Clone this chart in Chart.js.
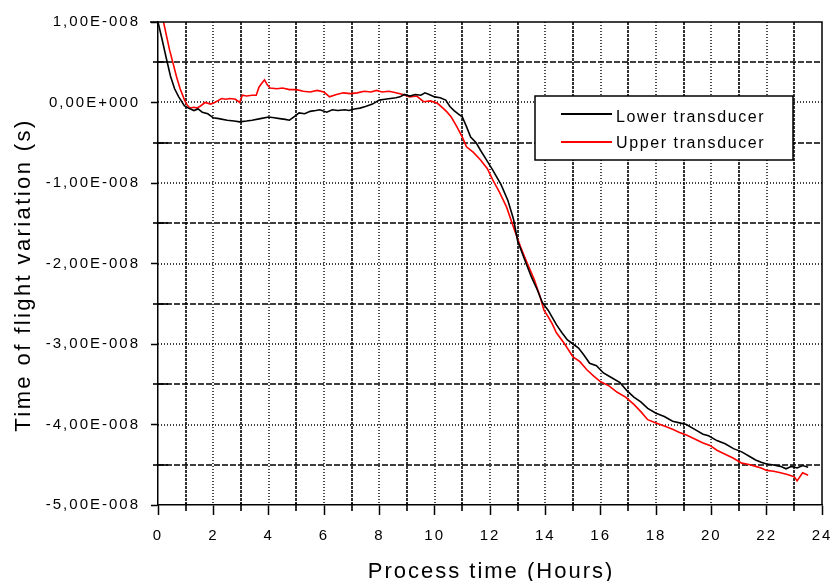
<!DOCTYPE html>
<html>
<head>
<meta charset="utf-8">
<script src="https://cdn.jsdelivr.net/npm/chart.js@4.4.0/dist/chart.umd.min.js"></script>
<style>
  html, body { margin: 0; padding: 0; background: #fff; }
  #wrap { width: 831px; height: 581px; }
</style>
</head>
<body>
<div id="wrap"><canvas id="tof" width="831" height="581"></canvas></div>
<script>
// process time (hours) / time of flight variation, in units of 1e-8 s
const lowerHours = [
  0, 0.15, 0.3, 0.45, 0.6, 0.75, 0.95, 1.1, 1.3, 1.45,
  1.6, 1.8, 2.0, 2.2, 2.5, 2.75, 2.95, 3.2, 3.4, 3.7,
  4.0, 4.2, 4.4, 4.6, 4.75, 4.95, 5.1, 5.3, 5.5, 5.7,
  5.85, 6.1, 6.3, 6.5, 6.75, 6.9, 7.1, 7.3, 7.5, 7.75,
  8.0, 8.2, 8.4, 8.6, 8.75, 8.9, 9.1, 9.3, 9.5, 9.65,
  9.8, 10.0, 10.2, 10.4, 10.55, 10.7, 10.85, 11.0, 11.15, 11.3,
  11.5, 11.65, 11.85, 12.1, 12.4, 12.65, 12.85, 13.0, 13.25, 13.5,
  13.7, 13.9, 14.1, 14.4, 14.6, 14.8, 15.0, 15.2, 15.4, 15.6,
  15.85, 16.1, 16.4, 16.7, 16.95, 17.2, 17.45, 17.7, 18.0, 18.3,
  18.6, 18.85, 19.1, 19.4, 19.7, 19.9, 20.2, 20.5, 20.8, 21.1,
  21.4, 21.6, 21.8, 22.0, 22.2, 22.5, 22.7, 22.9, 23.1, 23.3,
  23.5
];
const lowerTof = [
  1.0, 0.78, 0.55, 0.33, 0.17, 0.07, -0.04, -0.07, -0.1, -0.08,
  -0.12, -0.14, -0.19, -0.2, -0.22, -0.23, -0.24, -0.23, -0.22, -0.2,
  -0.18, -0.19, -0.2, -0.21, -0.22, -0.17, -0.13, -0.14, -0.11, -0.1,
  -0.09, -0.12, -0.09, -0.1, -0.09, -0.1, -0.08, -0.07, -0.05, -0.02,
  0.03, 0.04, 0.05, 0.06, 0.07, 0.1, 0.08, 0.1, 0.09, 0.12,
  0.1, 0.07, 0.06, 0.03, -0.05, -0.1, -0.14, -0.18, -0.3, -0.43,
  -0.5, -0.59, -0.7, -0.84, -1.02, -1.22, -1.45, -1.72, -1.95, -2.17,
  -2.32, -2.49, -2.58, -2.76, -2.86, -2.95, -3.0, -3.05, -3.14, -3.24,
  -3.27, -3.36, -3.42, -3.48, -3.58, -3.66, -3.72, -3.8, -3.86, -3.9,
  -3.96, -3.98, -4.0, -4.06, -4.12, -4.14, -4.2, -4.24, -4.3, -4.34,
  -4.4, -4.44, -4.47, -4.49, -4.5, -4.52, -4.55, -4.52, -4.54, -4.51,
  -4.53
];
const upperHours = [
  0.2, 0.3, 0.42, 0.55, 0.67, 0.8, 0.96, 1.05, 1.15, 1.3,
  1.4, 1.55, 1.7, 1.9, 2.05, 2.2, 2.3, 2.45, 2.6, 2.8,
  2.95, 3.05, 3.2, 3.4, 3.55, 3.65, 3.75, 3.85, 3.95, 4.05,
  4.3, 4.5, 4.75, 5.0, 5.25, 5.5, 5.75, 6.0, 6.2, 6.45,
  6.7, 6.95, 7.2, 7.45, 7.7, 7.9, 8.1, 8.35, 8.6, 8.85,
  9.1, 9.35, 9.6, 9.85, 10.1, 10.3, 10.45, 10.6, 10.8, 11.0,
  11.15, 11.4, 11.65, 11.9, 12.1, 12.35, 12.6, 12.85, 13.1, 13.35,
  13.6, 13.8, 13.95, 14.1, 14.25, 14.4, 14.7, 15.0, 15.25, 15.5,
  15.75, 16.0, 16.3, 16.6, 16.9, 17.2, 17.45, 17.7, 18.0, 18.3,
  18.6, 18.85, 19.1, 19.4, 19.7, 19.95, 20.2, 20.5, 20.8, 21.1,
  21.4, 21.6, 21.8, 22.0, 22.25, 22.5, 22.75, 23.0, 23.1, 23.3,
  23.5
];
const upperTof = [
  1.0, 0.84, 0.65, 0.48, 0.32, 0.17, 0.03, -0.03, -0.07, -0.06,
  -0.07, -0.04, 0.0, -0.02, 0.0, 0.03, 0.05, 0.04, 0.05, 0.04,
  0.0, 0.09, 0.08, 0.09, 0.09, 0.19, 0.24, 0.28, 0.22, 0.18,
  0.17, 0.18, 0.16, 0.16, 0.14, 0.13, 0.15, 0.13, 0.07, 0.1,
  0.12, 0.11, 0.12, 0.14, 0.13, 0.15, 0.13, 0.14, 0.12, 0.1,
  0.07, 0.08, 0.01, 0.02, -0.01, -0.07, -0.12, -0.18, -0.3, -0.43,
  -0.55, -0.62, -0.71, -0.82, -0.96, -1.12, -1.3, -1.55, -1.79, -2.0,
  -2.2, -2.4, -2.58, -2.66, -2.75, -2.86, -3.0, -3.16, -3.22, -3.32,
  -3.4, -3.47, -3.52, -3.6, -3.66, -3.75, -3.84, -3.94, -3.98, -4.02,
  -4.06, -4.1, -4.13, -4.18, -4.23, -4.26, -4.32, -4.37, -4.42, -4.48,
  -4.5, -4.52, -4.54, -4.57, -4.58, -4.6, -4.62, -4.65, -4.7, -4.6,
  -4.63
];

const SERIES_NAMES = ["Lower transducer", "Upper transducer"];
const SERIES_COLORS = ["#000000", "#ff0000"];
const X_LABELS = ["0", "2", "4", "6", "8", "10", "12", "14", "16", "18", "20", "22", "24"];
// top to bottom: 1e-8 ... -5e-8
const Y_LABELS = ["1,00E-008", "0,00E+000", "-1,00E-008", "-2,00E-008", "-3,00E-008", "-4,00E-008", "-5,00E-008"];
const X_TITLE = "Process time (Hours)";
const Y_TITLE = "Time of flight variation (s)";

const FONT = '"Liberation Sans", Arial, sans-serif';
const toPoints = (xs, ys) => xs.map((h, i) => ({ x: h, y: ys[i] }));

// grid, minor ticks, frame, legend box and axis titles
const decor = {
  id: "decor",
  beforeDraw(chart) {
    chart.ctx.letterSpacing = "2px";
  },
  beforeDatasetsDraw(chart) {
    const { ctx, chartArea: a, scales: { x, y } } = chart;
    ctx.save();
    ctx.strokeStyle = "#000";
    for (let h = 1; h < 24; h++) {
      const px = Math.round(x.getPixelForValue(h));
      const odd = h % 2 === 1;
      ctx.lineWidth = odd ? 1.6 : 1.4;
      ctx.setLineDash(odd ? [3, 1] : [1, 2]);
      ctx.beginPath();
      ctx.moveTo(px, a.top);
      ctx.lineTo(px, a.bottom);
      ctx.stroke();
      if (odd) {
        ctx.setLineDash([]);
        ctx.beginPath();
        ctx.moveTo(px, a.bottom - 2);
        ctx.lineTo(px, a.bottom + 6);
        ctx.stroke();
      }
    }
    for (let v = -4.5; v < 1; v += 0.5) {
      const py = Math.round(y.getPixelForValue(v));
      const half = !Number.isInteger(v);
      ctx.lineWidth = half ? 1.6 : 1.4;
      ctx.setLineDash(half ? [6, 2] : [1, 2]);
      ctx.beginPath();
      ctx.moveTo(a.left, py);
      ctx.lineTo(a.right, py);
      ctx.stroke();
      if (half) {
        ctx.setLineDash([]);
        ctx.beginPath();
        ctx.moveTo(a.left - 5, py);
        ctx.lineTo(a.left + 10, py);
        ctx.stroke();
      }
    }
    ctx.restore();
  },
  afterDatasetsDraw(chart) {
    const { ctx, chartArea: a } = chart;
    ctx.save();
    ctx.setLineDash([]);
    ctx.strokeStyle = "#000";
    ctx.lineWidth = 1.5;
    // frame top / right
    ctx.beginPath();
    ctx.moveTo(a.left - 8, a.top);
    ctx.lineTo(a.right, a.top);
    ctx.lineTo(a.right, a.bottom);
    ctx.stroke();

    // legend
    const bx = 535, by = 96, bw = 258, bh = 64;
    ctx.fillStyle = "#fff";
    ctx.fillRect(bx, by, bw, bh);
    ctx.strokeRect(bx, by, bw, bh);
    ctx.font = "16px " + FONT;
    ctx.letterSpacing = "1.6px";
    ctx.textAlign = "left";
    ctx.textBaseline = "alphabetic";
    const rows = [{ line: 114, base: 122 }, { line: 142, base: 148 }];
    chart.data.datasets.forEach((ds, i) => {
      ctx.strokeStyle = ds.borderColor;
      ctx.lineWidth = 2;
      ctx.beginPath();
      ctx.moveTo(561, rows[i].line);
      ctx.lineTo(612, rows[i].line);
      ctx.stroke();
      ctx.fillStyle = "#000";
      ctx.fillText(ds.label, 616, rows[i].base);
    });
    ctx.restore();
  },
  afterDraw(chart) {
    const { ctx, chartArea: a } = chart;
    ctx.save();
    ctx.fillStyle = "#000";
    ctx.font = "22px " + FONT;
    ctx.textAlign = "center";
    ctx.textBaseline = "alphabetic";
    ctx.letterSpacing = "2px";
    ctx.fillText(X_TITLE, (a.left + a.right) / 2 + 1, 578);
    ctx.letterSpacing = "2.4px";
    ctx.translate(30, 275);
    ctx.rotate(-Math.PI / 2);
    ctx.fillText(Y_TITLE, 0, 0);
    ctx.restore();
  },
};

const canvas = document.getElementById("tof");
canvas.getContext("2d").letterSpacing = "2px";

new Chart(canvas, {
  type: "line",
  data: {
    datasets: [
      { label: SERIES_NAMES[0], data: toPoints(lowerHours, lowerTof), borderColor: SERIES_COLORS[0] },
      { label: SERIES_NAMES[1], data: toPoints(upperHours, upperTof), borderColor: SERIES_COLORS[1] },
    ],
  },
  options: {
    responsive: false,
    animation: false,
    devicePixelRatio: 1,
    layout: { padding: { top: 22, right: 9, left: 0, bottom: 0 } },
    elements: {
      line: { borderWidth: 1.6, tension: 0, fill: false },
      point: { radius: 0, hoverRadius: 0 },
    },
    plugins: { legend: { display: false }, tooltip: { enabled: false } },
    scales: {
      x: {
        type: "linear",
        min: 0,
        max: 24,
        afterFit: (s) => { s.height = 76; s.paddingLeft = 0; s.paddingRight = 0; },
        border: { display: true, color: "#000", width: 1.5 },
        grid: {
          drawOnChartArea: false,
          tickLength: 10,
          tickWidth: 1.5,
          tickColor: (c) => (c.tick && c.tick.value % 2 === 0 ? "#000" : "rgba(0,0,0,0)"),
        },
        ticks: {
          stepSize: 1,
          autoSkip: false,
          maxRotation: 0,
          padding: 12,
          color: "#000",
          font: { family: FONT, size: 15 },
          callback: (v) => (v % 2 === 0 ? X_LABELS[v / 2] : ""),
        },
      },
      y: {
        min: -5,
        max: 1,
        afterFit: (s) => { s.width = 158; s.paddingTop = 0; s.paddingBottom = 0; },
        border: { display: true, color: "#000", width: 1.5 },
        grid: {
          drawOnChartArea: false,
          tickLength: 7,
          tickWidth: 1.5,
          tickColor: (c) => (c.tick && Number.isInteger(c.tick.value) ? "#000" : "rgba(0,0,0,0)"),
        },
        ticks: {
          stepSize: 0.5,
          autoSkip: false,
          padding: 11,
          color: "#000",
          font: { family: FONT, size: 15 },
          callback: (v) => (Number.isInteger(v) ? Y_LABELS[1 - v] : ""),
        },
      },
    },
  },
  plugins: [decor],
});
</script>
</body>
</html>
